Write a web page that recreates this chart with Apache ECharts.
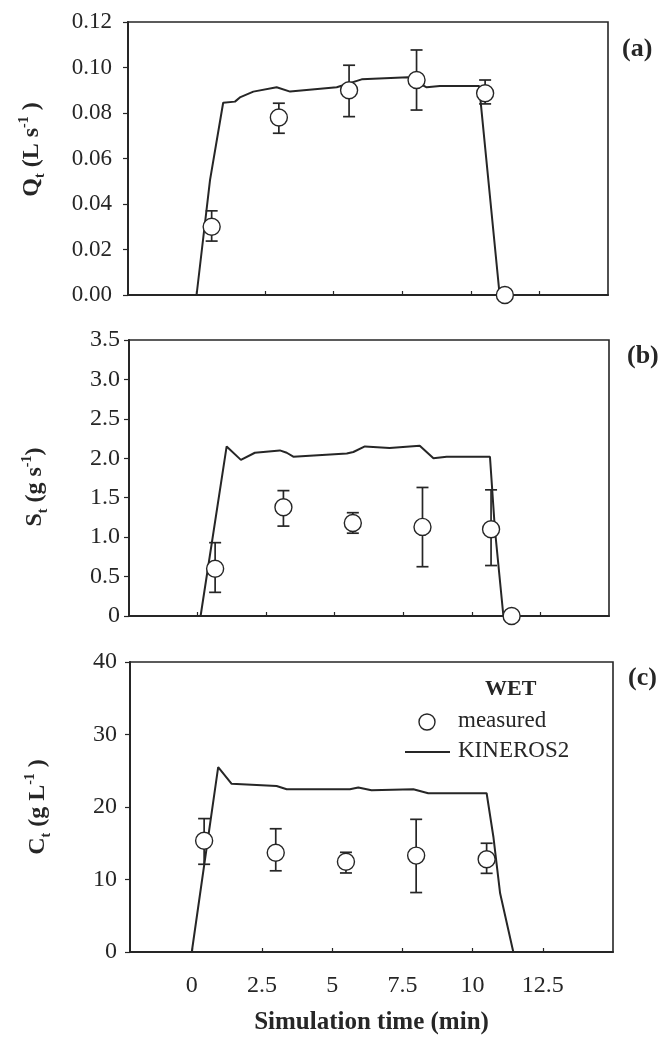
<!DOCTYPE html>
<html>
<head>
<meta charset="utf-8">
<script src="https://cdn.jsdelivr.net/npm/echarts@6/dist/echarts.min.js"></script>
<style>
  html, body { margin: 0; padding: 0; background: #fff; }
  #box01 { width: 671px; height: 1041px; }
</style>
</head>
<body>
<div id="box01"></div>
<script>
// (a) discharge, KINEROS2 simulated line
var qSimT = [0, 0.49, 0.97, 1.4, 1.6, 2.07, 2.92, 3.41, 5.11, 6.02, 7.71, 8.39, 8.87, 10.3, 11.05, 14];
var qSim = [0, 0.0505, 0.0845, 0.085, 0.087, 0.0894, 0.0913, 0.0894, 0.0913, 0.0948, 0.0957, 0.0913, 0.0919, 0.0919, 0, 0];
// (a) measured
var qObsT = [0.55, 3.0, 5.56, 8.02, 10.52, 11.24];
var qObs = [0.030, 0.078, 0.090, 0.0945, 0.0887, 0];
var qLo = [0.0237, 0.0711, 0.0784, 0.0813, 0.084, null];
var qHi = [0.037, 0.0843, 0.101, 0.1077, 0.0945, null];

// (b) sediment discharge
var sSimT = [0.11, 1.06, 1.58, 2.09, 3.0, 3.25, 3.49, 5.44, 5.68, 6.1, 7.0, 8.1, 8.6, 9.08, 10.66, 10.84, 11.15, 14];
var sSim = [0, 2.15, 1.98, 2.07, 2.1, 2.07, 2.02, 2.06, 2.08, 2.15, 2.13, 2.16, 2.0, 2.02, 2.02, 1.1, 0, 0];
var sObsT = [0.64, 3.13, 5.66, 8.2, 10.7, 11.45];
var sObs = [0.60, 1.38, 1.18, 1.13, 1.10, 0];
var sLo = [0.30, 1.14, 1.05, 0.625, 0.64, null];
var sHi = [0.93, 1.59, 1.31, 1.63, 1.60, null];

// (c) sediment concentration
var cSimT = [0, 0.94, 1.42, 3.02, 3.38, 5.63, 5.93, 6.4, 7.89, 8.42, 10.5, 10.74, 10.98, 11.45, 11.93];
var cSim = [0, 25.5, 23.2, 22.9, 22.45, 22.45, 22.7, 22.3, 22.45, 21.9, 21.9, 15.9, 8.1, 0, 0];
var cObsT = [0.44, 2.99, 5.49, 7.99, 10.5];
var cObs = [15.35, 13.7, 12.45, 13.3, 12.8];
var cLo = [12.1, 11.2, 10.9, 8.2, 10.85];
var cHi = [18.4, 17.0, 13.75, 18.3, 15.0];

var xTicks = [0, 2.5, 5, 7.5, 10, 12.5];

var FONT = "'Liberation Serif', 'Times New Roman', serif";
var INK = '#262626';

function pairs(xs, ys) {
    var out = [];
    for (var i = 0; i < xs.length; i++) out.push([xs[i], ys[i]]);
    return out;
}
function bars(xs, lo, hi) {
    var out = [];
    for (var i = 0; i < xs.length; i++) {
        if (lo[i] == null) continue;
        out.push([xs[i], lo[i], hi[i]]);
    }
    return out;
}

function errorBarItem(params, api) {
    var x = api.value(0);
    var top = api.coord([x, api.value(2)]);
    var bot = api.coord([x, api.value(1)]);
    var w = 6;
    var st = { stroke: INK, lineWidth: 1.7 };
    return {
        type: 'group',
        children: [
            { type: 'line', shape: { x1: top[0], y1: top[1], x2: bot[0], y2: bot[1] }, style: st },
            { type: 'line', shape: { x1: top[0] - w, y1: top[1], x2: top[0] + w, y2: top[1] }, style: st },
            { type: 'line', shape: { x1: bot[0] - w, y1: bot[1], x2: bot[0] + w, y2: bot[1] }, style: st }
        ]
    };
}

function xAxisOf(idx, min, showLabel, name) {
    return {
        type: 'value', gridIndex: idx, min: min, max: 15,
        axisLine: { onZero: false, lineStyle: { color: INK, width: 2 } },
        axisTick: { show: true, inside: true, length: 4, customValues: xTicks, lineStyle: { color: INK, width: 1.2 } },
        axisLabel: {
            show: showLabel, customValues: xTicks, margin: 22,
            fontFamily: FONT, fontSize: 24, color: INK
        },
        splitLine: { show: false },
        name: name || '', nameLocation: 'middle', nameGap: 58,
        nameTextStyle: { fontFamily: FONT, fontSize: 25, fontWeight: 'bold', color: INK }
    };
}

function yAxisOf(idx, max, interval, fmt, margin, fs, name, gap, pad) {
    return {
        type: 'value', gridIndex: idx, min: 0, max: max, interval: interval,
        axisLine: { onZero: false, lineStyle: { color: INK, width: 2 } },
        axisTick: { show: true, length: 5, lineStyle: { color: INK, width: 1.2 } },
        axisLabel: { formatter: fmt, margin: margin, fontFamily: FONT, fontSize: fs, color: INK },
        splitLine: { show: false },
        name: name, nameLocation: 'middle', nameRotate: 90, nameGap: gap,
        nameTextStyle: {
            padding: pad,
            rich: {
                b: { fontFamily: FONT, fontSize: 24, fontWeight: 'bold', color: INK, lineHeight: 30 },
                s: { fontFamily: FONT, fontSize: 14, fontWeight: 'bold', color: INK, verticalAlign: 'bottom', lineHeight: 14 },
                p: { fontFamily: FONT, fontSize: 14, fontWeight: 'bold', color: INK, verticalAlign: 'top', lineHeight: 14 }
            }
        }
    };
}

function simLine(idx, xs, ys) {
    return {
        name: 'KINEROS2', type: 'line', xAxisIndex: idx, yAxisIndex: idx,
        data: pairs(xs, ys), symbol: 'none', z: 2,
        lineStyle: { color: INK, width: 2 }
    };
}
function errSeries(idx, xs, lo, hi) {
    return {
        type: 'custom', xAxisIndex: idx, yAxisIndex: idx, z: 3,
        encode: { x: 0, y: [1, 2] },
        data: bars(xs, lo, hi), renderItem: errorBarItem
    };
}
function obsSeries(idx, xs, ys) {
    return {
        name: 'measured', type: 'scatter', xAxisIndex: idx, yAxisIndex: idx, z: 4,
        data: pairs(xs, ys), symbol: 'circle', symbolSize: 17,
        itemStyle: { color: '#fff', borderColor: INK, borderWidth: 1.4, opacity: 1 }
    };
}

var myChart = echarts.init(document.getElementById('box01'));

var gridStyle = { show: true, borderColor: INK, borderWidth: 1.6, backgroundColor: 'transparent' };

var option = {
    animation: false,
    backgroundColor: '#fff',
    grid: [
        Object.assign({ left: 128, top: 22, width: 480, height: 273 }, gridStyle),
        Object.assign({ left: 129, top: 340, width: 480, height: 276 }, gridStyle),
        Object.assign({ left: 130, top: 662, width: 483, height: 290 }, gridStyle)
    ],
    xAxis: [
        xAxisOf(0, -2.5, false),
        xAxisOf(1, -2.5, false),
        xAxisOf(2, -2.2, true, 'Simulation time (min)')
    ],
    yAxis: [
        yAxisOf(0, 0.12, 0.02, function (v) { return v.toFixed(2); }, 16, 23,
            '{b|Q}{s|t}{b| (L s}{p|-1}{b| )}', 81, [0, 0, 0, 18]),
        yAxisOf(1, 3.5, 0.5, function (v) { return v === 0 ? '0' : v.toFixed(1); }, 9, 24,
            '{b|S}{s|t}{b| (g s}{p|-1}{b|)}', 79, [0, 18, 0, 0]),
        yAxisOf(2, 40, 10, function (v) { return String(v); }, 13, 24,
            '{b|C}{s|t}{b| (g L}{p|-1}{b| )}', 77, [0, 0, 0, 0])
    ],
    graphic: [
        { type: 'text', left: 622, top: 36, style: { text: '(a)', font: 'bold 26px ' + FONT, fill: INK } },
        { type: 'text', left: 627, top: 343, style: { text: '(b)', font: 'bold 26px ' + FONT, fill: INK } },
        { type: 'text', left: 628, top: 665, style: { text: '(c)', font: 'bold 26px ' + FONT, fill: INK } },
        // legend
        { type: 'text', left: 485, top: 678, style: { text: 'WET', font: 'bold 22px ' + FONT, fill: INK } },
        { type: 'circle', shape: { cx: 427, cy: 722, r: 8 }, style: { fill: '#fff', stroke: INK, lineWidth: 1.4 } },
        { type: 'text', left: 458, top: 709, style: { text: 'measured', font: '23px ' + FONT, fill: INK } },
        { type: 'line', shape: { x1: 405, y1: 752, x2: 450, y2: 752 }, style: { stroke: INK, lineWidth: 2 } },
        { type: 'text', left: 458, top: 739, style: { text: 'KINEROS2', font: '23px ' + FONT, fill: INK } }
    ],
    series: [
        simLine(0, qSimT, qSim), errSeries(0, qObsT, qLo, qHi), obsSeries(0, qObsT, qObs),
        simLine(1, sSimT, sSim), errSeries(1, sObsT, sLo, sHi), obsSeries(1, sObsT, sObs),
        simLine(2, cSimT, cSim), errSeries(2, cObsT, cLo, cHi), obsSeries(2, cObsT, cObs)
    ]
};

myChart.setOption(option);
</script>
</body>
</html>
